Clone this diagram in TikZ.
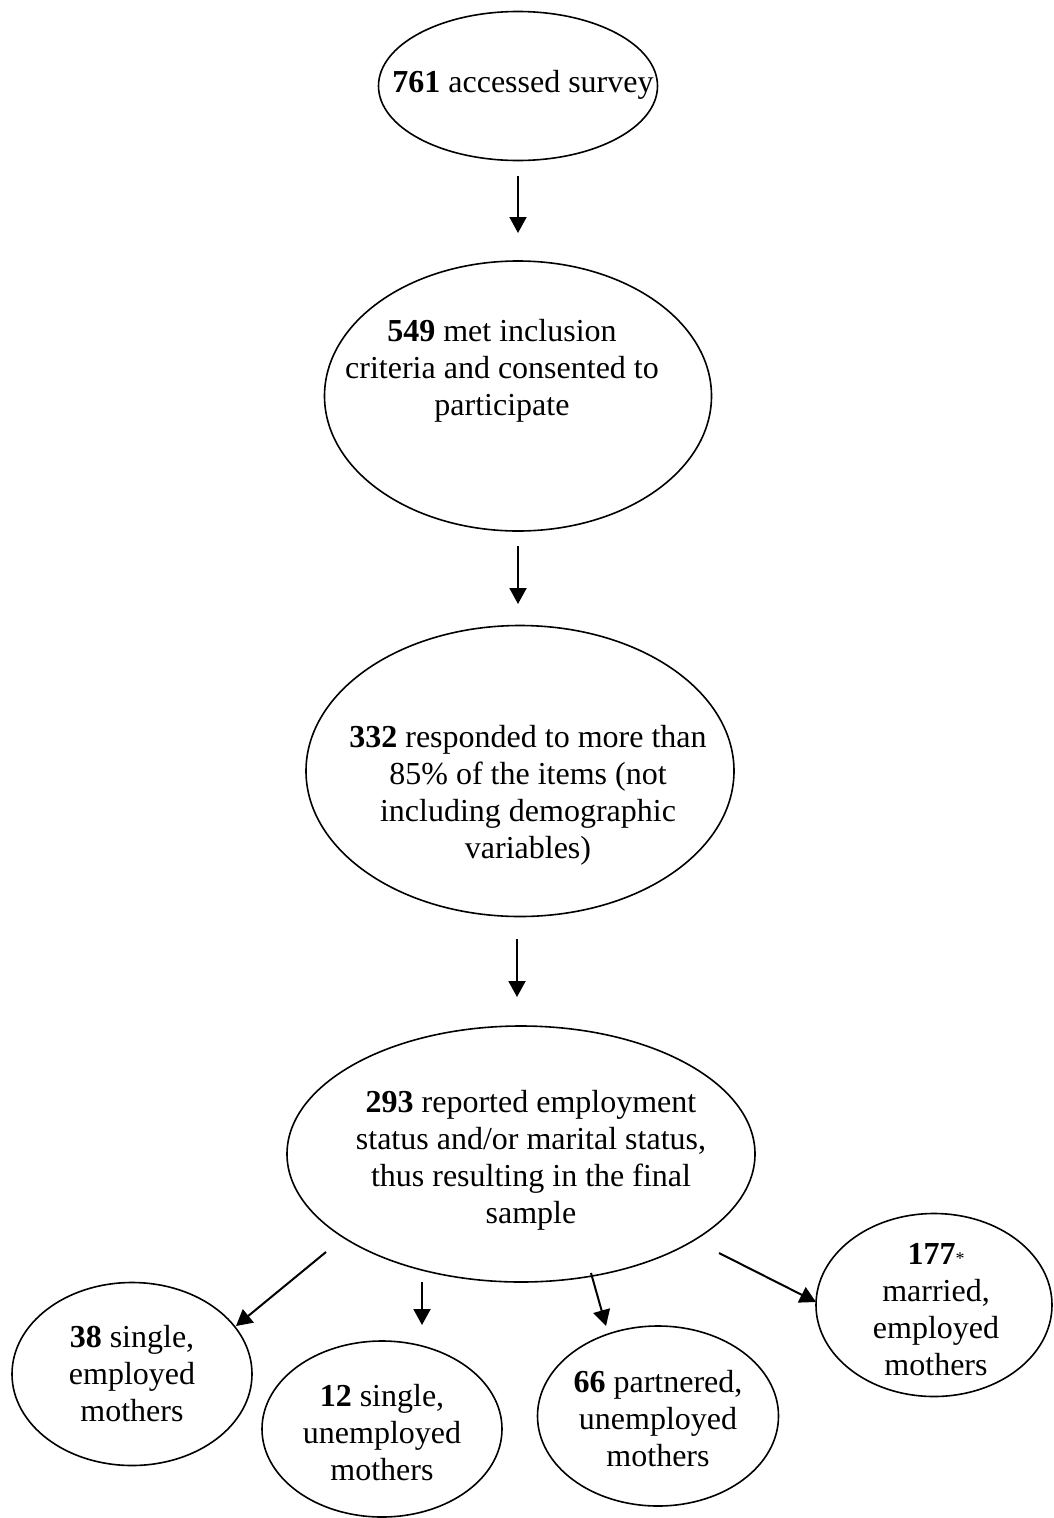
\documentclass[tikz,border=0pt]{standalone}
\usepackage{fontspec}
\setmainfont{Liberation Serif}
\usetikzlibrary{shapes.geometric,arrows.meta}

\tikzset{
	oval/.style={draw,ellipse,inner sep=0pt,line width=1.6pt},
	lbl/.style={anchor=north,align=center,inner sep=0pt,font=\fontsize{32}{37}\selectfont},
}

\begin{document}
\begin{tikzpicture}[x=1pt,y=-1pt,>={Triangle[length=16pt,width=17pt]}]
	\useasboundingbox (0,0) rectangle (1053,1518);

	% main chain
	\begin{scope}
		\node[oval,minimum width=279pt,minimum height=149pt] (e1) at (518,86) {};
		\node[oval,minimum width=387pt,minimum height=270pt] (e2) at (518,396) {};
		\node[oval,minimum width=428pt,minimum height=291pt] (e3) at (520,771) {};
		\node[oval,minimum width=468pt,minimum height=256pt] (e4) at (521,1154) {};

		\node[lbl] (t1) at (523,66) {\strut\textbf{761} accessed survey};
		\node[lbl] (t2) at (502,315) {\strut\textbf{549} met inclusion\\criteria and consented to\\participate};
		\node[lbl] (t3) at (528,721) {\strut\textbf{332} responded to more than\\85\% of the items (not\\including demographic\\variables)};
		\node[lbl] (t4) at (531,1086) {\strut\textbf{293} reported employment\\status and/or marital status,\\thus resulting in the final\\sample};
	\end{scope}

	% groups
	\begin{scope}
		\node[oval,minimum width=240pt,minimum height=183pt] (e5) at (132,1374) {};
		\node[oval,minimum width=240pt,minimum height=176pt] (e6) at (382,1429) {};
		\node[oval,minimum width=241pt,minimum height=180pt] (e7) at (658,1416) {};
		\node[oval,minimum width=236pt,minimum height=183pt] (e8) at (934,1305) {};

		\node[lbl] (t5) at (132,1321) {\strut\textbf{38} single,\\employed\\mothers};
		\node[lbl] (t6) at (382,1380) {\strut\textbf{12} single,\\unemployed\\mothers};
		\node[lbl] (t7) at (658,1366) {\strut\textbf{66} partnered,\\unemployed\\mothers};
		\node[lbl] (t8) at (936,1238) {\strut\textbf{177}{\fontsize{18}{18}\selectfont *}\\married,\\employed\\mothers};
	\end{scope}

	% arrows
	\begin{scope}[line width=2pt]
		\coordinate (a1) at (518,176); \coordinate (a1e) at (518,233);
		\coordinate (a2) at (518,546); \coordinate (a2e) at (518,604);
		\coordinate (a3) at (517,939); \coordinate (a3e) at (517,997);
		\coordinate (b1) at (326,1252); \coordinate (b1e) at (236,1326);
		\coordinate (b2) at (422,1282); \coordinate (b2e) at (422,1325);
		\coordinate (b3) at (591,1273); \coordinate (b3e) at (606,1326);
		\coordinate (b4) at (719,1253); \coordinate (b4e) at (816,1302);

		\draw[->] (a1) -- (a1e);
		\draw[->] (a2) -- (a2e);
		\draw[->] (a3) -- (a3e);
		\draw[->] (b1) -- (b1e);
		\draw[->] (b2) -- (b2e);
		\draw[->] (b3) -- (b3e);
		\draw[->] (b4) -- (b4e);
	\end{scope}
\end{tikzpicture}
\end{document}
